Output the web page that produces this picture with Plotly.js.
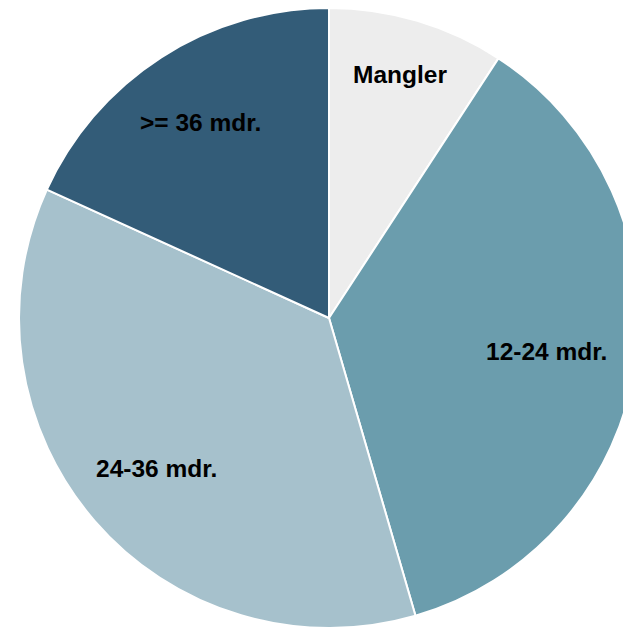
<!DOCTYPE html>
<html>
<head>
<meta charset="utf-8">
<script src="https://cdn.plot.ly/plotly-3.0.1.min.js"></script>
<style>
html,body{margin:0;padding:0;overflow:hidden;background:#fff;width:623px;height:628px;}
#chart{position:absolute;left:19px;top:8px;width:620px;height:620px;}
</style>
</head>
<body>
<div id="chart"></div>
<script>
const categories = ["Mangler", "12-24 mdr.", "24-36 mdr.", ">= 36 mdr."];
const values = [9.2, 36.3, 36.3, 18.2];
const colors = ["#EDEDED", "#6B9DAD", "#A6C1CC", "#335C78"];
// label anchor positions (paper fractions)
const labelX = [0.6145, 0.8516, 0.2218, 0.2927];
const labelY = [0.8935, 0.4452, 0.2565, 0.8161];

const trace = {
  type: "pie",
  labels: categories,
  values: values,
  sort: false,
  direction: "clockwise",
  rotation: 0,
  marker: {colors: colors, line: {color: "#ffffff", width: 2}},
  textinfo: "none",
  hoverinfo: "label+value",
  showlegend: false,
  domain: {x: [0, 1], y: [0, 1]}
};

const annotations = categories.map((c, i) => ({
  text: "<b>" + c + "</b>",
  x: labelX[i], y: labelY[i],
  xref: "paper", yref: "paper",
  xanchor: "center", yanchor: "middle",
  showarrow: false,
  font: {family: "Liberation Sans, Arial, sans-serif", size: 24.5, color: "#000000"}
}));

const layout = {
  width: 620, height: 620,
  margin: {l: 0, r: 0, t: 0, b: 0, pad: 0},
  paper_bgcolor: "#ffffff",
  showlegend: false,
  annotations: annotations
};

Plotly.newPlot("chart", [trace], layout, {displayModeBar: false, staticPlot: true});
</script>
</body>
</html>
